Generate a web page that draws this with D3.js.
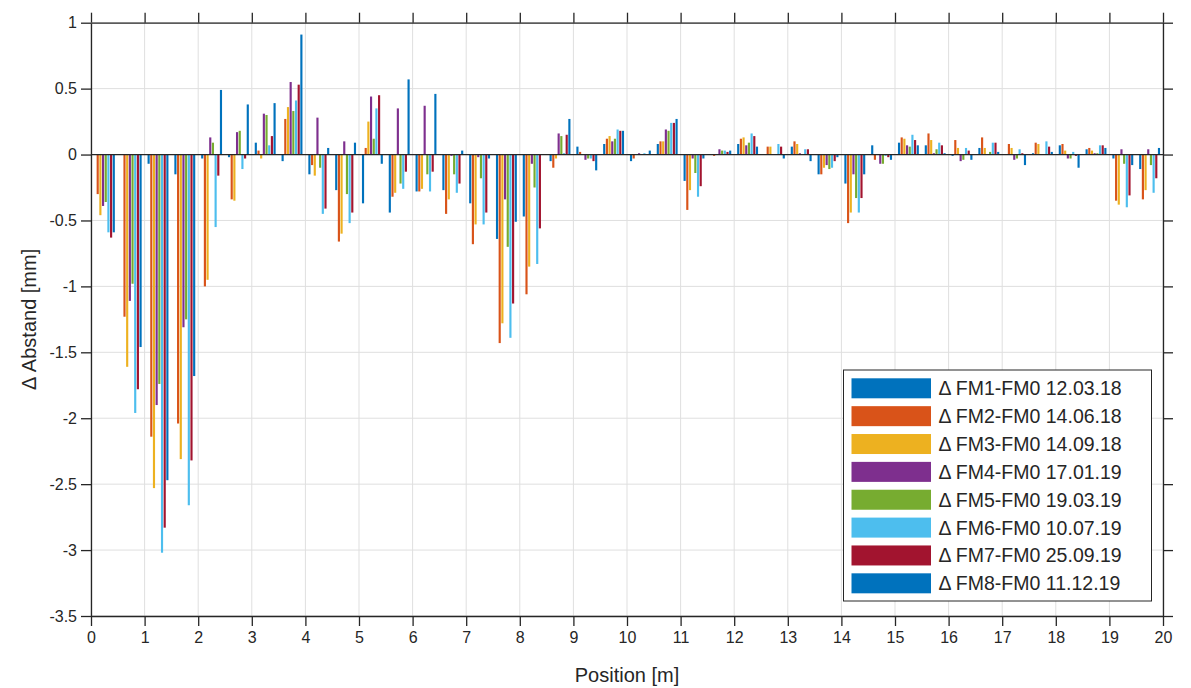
<!DOCTYPE html>
<html>
<head>
<meta charset="utf-8">
<script src="https://cdn.jsdelivr.net/npm/d3@7"></script>
<style>
  body { margin: 0; background: #fff; }
  text { font-family: "Liberation Sans", Arial, sans-serif; fill: #262626; }
</style>
</head>
<body>
<svg id="chart" width="1191" height="688"></svg>
<script>
// measuring positions (group centres) in m
const positions = [0.25, 0.75, 1.25, 1.75, 2.25, 2.75, 3.25, 3.75, 4.25, 4.75,
  5.25, 5.75, 6.25, 6.75, 7.25, 7.75, 8.25, 8.75, 9.25, 9.75,
  10.25, 10.75, 11.25, 11.75, 12.25, 12.75, 13.25, 13.75, 14.25, 14.75,
  15.25, 15.75, 16.25, 16.75, 17.25, 17.75, 18.25, 18.75, 19.25, 19.75];

const seriesNames = [
  "\u0394 FM1-FM0 12.03.18", "\u0394 FM2-FM0 14.06.18", "\u0394 FM3-FM0 14.09.18",
  "\u0394 FM4-FM0 17.01.19", "\u0394 FM5-FM0 19.03.19", "\u0394 FM6-FM0 10.07.19",
  "\u0394 FM7-FM0 25.09.19", "\u0394 FM8-FM0 11.12.19"
];

// delta distance [mm], one value per position
const fm1 = [0, 0, -0.07, -0.15, -0.03, -0.02, 0.09, -0.05, -0.15, -0.27,
  -0.37, -0.44, -0.28, -0.27, -0.37, -0.64, -0.47, -0.05, 0.06, 0.08,
  -0.05, 0.08, -0.20, 0, 0.08, 0, 0.06, -0.15, -0.22, 0.07,
  0.09, 0.07, -0.01, 0.05, 0, 0.01, 0.07, 0.04, -0.03, -0.11];
const fm2 = [-0.30, -1.23, -2.14, -2.04, -1.00, -0.34, 0.03, 0.27, -0.08, -0.66,
  0.05, -0.32, -0.28, -0.45, -0.68, -1.43, -1.06, -0.10, 0.02, 0.12,
  -0.03, 0.10, -0.42, -0.01, 0.12, 0.06, 0.10, -0.15, -0.52, -0.04,
  0.13, 0.16, 0.11, 0.13, 0.08, 0.09, 0.08, 0.05, -0.35, -0.34];
const fm3 = [-0.46, -1.61, -2.53, -2.31, -0.95, -0.35, -0.03, 0.36, -0.16, -0.60,
  0.25, -0.29, -0.26, -0.34, -0.53, -1.28, -0.85, -0.03, 0, 0.14,
  0, 0.10, -0.27, 0, 0.13, 0.06, 0.08, -0.10, -0.44, 0,
  0.12, 0.11, 0.05, 0.05, 0.05, 0.08, 0.03, 0.03, -0.38, -0.27];
const fm4 = [-0.39, -1.11, -1.90, -1.31, 0.13, 0.17, 0.31, 0.55, 0.28, 0.10,
  0.44, 0.35, 0.37, -0.01, -0.02, -0.34, -0.07, 0.16, -0.04, 0.10,
  0.01, 0.19, -0.03, 0.04, 0.07, 0, 0.01, -0.08, -0.15, -0.07,
  0.07, 0.01, -0.05, 0, -0.04, 0, -0.03, 0.01, 0.04, 0.04];
const fm5 = [-0.36, -0.98, -1.74, -1.25, 0.09, 0.18, 0.30, 0.33, -0.10, -0.30,
  0.12, -0.22, -0.15, -0.15, -0.18, -0.70, -0.25, 0.14, -0.03, 0.12,
  0, 0.18, -0.14, 0.03, 0.09, 0, 0, -0.11, -0.33, -0.07,
  0.06, 0.04, -0.04, 0.02, -0.03, 0, -0.03, 0.01, -0.07, -0.08];
const fm6 = [-0.59, -1.96, -3.02, -2.66, -0.55, -0.11, 0.07, 0.41, -0.45, -0.52,
  0.35, -0.26, -0.28, -0.29, -0.53, -1.39, -0.83, 0.01, -0.03, 0.19,
  0.01, 0.24, -0.32, 0.03, 0.16, 0.08, 0.04, -0.10, -0.44, -0.01,
  0.15, 0.09, 0.05, 0.09, 0.04, 0.10, 0.02, 0.07, -0.40, -0.29];
const fm7 = [-0.63, -1.78, -2.83, -2.32, -0.16, -0.03, 0.14, 0.53, -0.41, -0.44,
  0.45, -0.13, -0.13, -0.22, -0.44, -1.13, -0.56, 0.15, -0.05, 0.18,
  0, 0.24, -0.24, 0.02, 0.14, 0.06, 0.04, -0.05, -0.33, -0.02,
  0.11, 0.07, 0.03, 0.09, 0.01, 0.06, -0.01, 0.07, -0.31, -0.18];
const fm8 = [-0.59, -1.46, -2.47, -1.68, 0.49, 0.38, 0.39, 0.91, 0.05, 0.09,
  -0.07, 0.57, 0.46, 0.03, -0.03, -0.51, 0, 0.27, -0.12, 0.18,
  0.03, 0.27, -0.03, 0.03, 0.06, -0.03, -0.05, -0.02, -0.15, -0.04,
  0.07, 0.01, -0.04, 0.02, -0.08, 0.02, -0.10, 0.05, -0.08, 0.05];

const series = [fm1, fm2, fm3, fm4, fm5, fm6, fm7, fm8];
const colors = ["#0072BD", "#D95319", "#EDB120", "#7E2F8E", "#77AC30", "#4DBEEE", "#A2142F", "#0072BD"];

const xTicks = d3.range(0, 21);
const yTicks = [1, 0.5, 0, -0.5, -1, -1.5, -2, -2.5, -3, -3.5];

// layout
const svg = d3.select("#chart");
const plot = { left: 91, right: 1163, top: 22.7, bottom: 616 };

const x = d3.scaleLinear().domain([0, 20]).range([plot.left, plot.right]);
const y = d3.scaleLinear().domain([-3.5, 1]).range([plot.bottom, plot.top]);

const barStep = 0.05;   // m between bars inside a group
const barW = 0.04;      // m bar width

svg.append("rect").attr("width", 1191).attr("height", 688).attr("fill", "#fff");

// grid
const grid = svg.append("g");
grid.selectAll("line.gx").data(xTicks).join("line")
  .attr("x1", d => x(d)).attr("x2", d => x(d))
  .attr("y1", plot.top).attr("y2", plot.bottom)
  .attr("stroke", "#dfdfdf").attr("stroke-width", 1);
grid.selectAll("line.gy").data(yTicks).join("line")
  .attr("y1", d => y(d)).attr("y2", d => y(d))
  .attr("x1", plot.left).attr("x2", plot.right)
  .attr("stroke", "#dfdfdf").attr("stroke-width", 1);

// bars
const bars = svg.append("g");
series.forEach((vals, i) => {
  bars.append("g").selectAll("rect")
    .data(vals.map((v, j) => ({ p: positions[j], v })))
    .join("rect")
    .attr("x", d => x(d.p + (i - 3.5) * barStep - barW / 2))
    .attr("width", x(barW) - x(0))
    .attr("y", d => y(Math.max(0, d.v)))
    .attr("height", d => Math.abs(y(d.v) - y(0)))
    .attr("fill", colors[i]);
});

// baseline
svg.append("line")
  .attr("x1", plot.left).attr("x2", plot.right)
  .attr("y1", y(0)).attr("y2", y(0))
  .attr("stroke", "#262626").attr("stroke-width", 1.2);

// axes
const fmt = d => String(d);
const axStyle = g => {
  g.select(".domain").attr("stroke", "#262626").attr("stroke-width", 1.3);
  g.selectAll(".tick line").attr("stroke", "#262626").attr("stroke-width", 1.3);
  g.selectAll(".tick text").style("font-size", "16px").attr("fill", "#262626");
};

svg.append("g").attr("transform", `translate(0,${plot.bottom})`)
  .call(d3.axisBottom(x).tickValues(xTicks).tickFormat(fmt).tickSize(10).tickSizeOuter(0).tickPadding(6))
  .call(axStyle);
svg.append("g").attr("transform", `translate(0,${plot.top})`)
  .call(d3.axisTop(x).tickValues(xTicks).tickFormat("").tickSize(10).tickSizeOuter(0))
  .call(axStyle);
svg.append("g").attr("transform", `translate(${plot.left},0)`)
  .call(d3.axisLeft(y).tickValues(yTicks).tickFormat(fmt).tickSize(10).tickSizeOuter(0).tickPadding(4))
  .call(axStyle);
svg.append("g").attr("transform", `translate(${plot.right},0)`)
  .call(d3.axisRight(y).tickValues(yTicks).tickFormat("").tickSize(10).tickSizeOuter(0))
  .call(axStyle);

// axis labels
svg.append("text")
  .attr("x", (plot.left + plot.right) / 2).attr("y", 682)
  .attr("text-anchor", "middle").style("font-size", "20px")
  .text("Position [m]");
svg.append("text")
  .attr("transform", `translate(36,${(plot.top + plot.bottom) / 2}) rotate(-90)`)
  .attr("text-anchor", "middle").style("font-size", "20px")
  .text("\u0394 Abstand [mm]");

// legend
const legend = svg.append("g").attr("transform", "translate(843.5,370)");
legend.append("rect")
  .attr("width", 308).attr("height", 231)
  .attr("fill", "#fff").attr("stroke", "#262626").attr("stroke-width", 1);
legend.selectAll("g.row").data(seriesNames).join("g")
  .attr("class", "row")
  .attr("transform", (d, i) => `translate(0,${18.3 + i * 27.86})`)
  .each(function(d, i) {
    const row = d3.select(this);
    row.append("rect")
      .attr("x", 8).attr("y", -10).attr("width", 79.5).attr("height", 20)
      .attr("fill", colors[i]);
    row.append("text")
      .attr("x", 95).attr("y", 7)
      .style("font-size", "19.5px")
      .text(d);
  });
</script>
</body>
</html>
